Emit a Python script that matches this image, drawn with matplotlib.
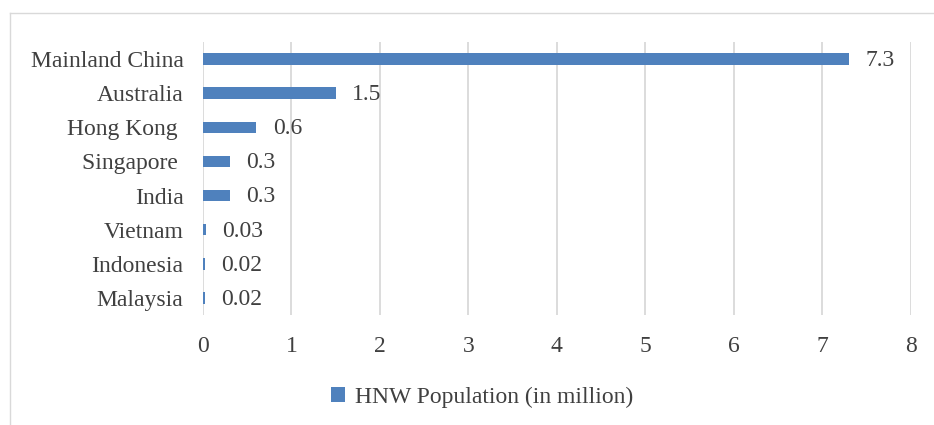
import matplotlib.pyplot as plt
from matplotlib.lines import Line2D

countries = ['Mainland China', 'Australia', 'Hong Kong ', 'Singapore ', 'India',
             'Vietnam', 'Indonesia', 'Malaysia']
values = [7.3, 1.5, 0.6, 0.3, 0.3, 0.03, 0.02, 0.02]
labels = ['7.3', '1.5', '0.6', '0.3', '0.3', '0.03', '0.02', '0.02']
ticks = [0, 1, 2, 3, 4, 5, 6, 7, 8]

plt.rcParams['font.family'] = ['Liberation Serif', 'DejaVu Serif']
text_col = '#404040'
bar_col = '#4F81BD'
grid_col = '#D9D9D9'
fs = 17

fig = plt.figure(figsize=(9.34, 4.25), dpi=100)
W, H = 934, 425
ax = fig.add_axes([203 / W, 1 - 315 / H, (910.7 - 203) / W, (315 - 42) / H])

pos = list(range(len(countries)))[::-1]
ax.barh(pos, values, height=0.34, color=bar_col, zorder=3,
        label='HNW Population (in million)')

for p, v, t in zip(pos, values, labels):
    ax.annotate(t, (v, p), xytext=(12, -1), textcoords='offset points',
                va='center', ha='left', fontsize=fs, color=text_col)

ax.set_xlim(0, 8)
ax.set_ylim(-0.5, 7.5)
ax.set_xticks(ticks)
ax.set_yticks(pos)
ax.set_yticklabels(countries)
ax.tick_params(axis='both', length=0, labelsize=fs, labelcolor=text_col)
ax.tick_params(axis='x', pad=15)
ax.tick_params(axis='y', pad=14)
ax.grid(axis='x', color=grid_col, linewidth=1.3, zorder=0)
for s in ax.spines.values():
    s.set_visible(False)

fig.legend(*ax.get_legend_handles_labels(), loc='center', bbox_to_anchor=(482 / W, 1 - 397 / H),
           frameon=False, fontsize=fs, labelcolor=text_col, handlelength=0.6, handleheight=0.6,
           handletextpad=0.4)

# chart border
fig.add_artist(Line2D([10 / W, 1], [1 - 13 / H, 1 - 13 / H], color=grid_col, linewidth=1))
fig.add_artist(Line2D([10 / W, 10 / W], [0, 1 - 13 / H], color=grid_col, linewidth=1))

fig.savefig('out.png', dpi=100)
